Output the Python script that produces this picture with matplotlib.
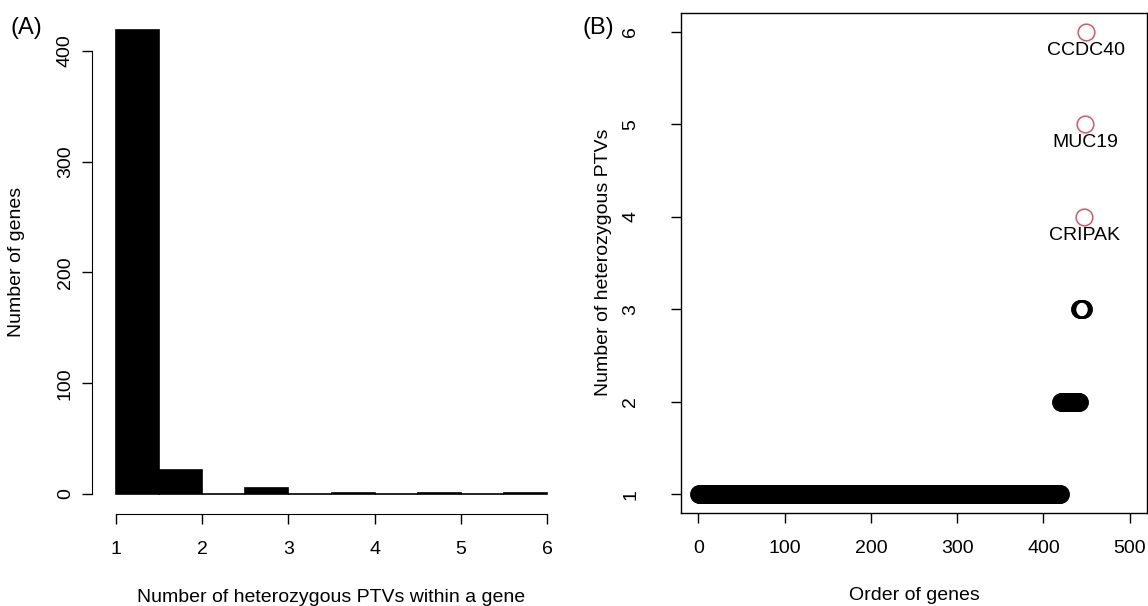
import numpy as np
import matplotlib.pyplot as plt

plt.rcParams["font.family"] = ["Liberation Sans", "DejaVu Sans"]

# Data
# histogram of heterozygous PTVs per gene (bins of width 0.5 from 1 to 6)
bin_edges = [1.0, 1.5, 2.0, 2.5, 3.0, 3.5, 4.0, 4.5, 5.0, 5.5, 6.0]
hist_counts = [419, 22, 0, 5, 0, 1, 0, 1, 0, 1]

# genes grouped by their number of PTVs (sorted order used in panel B)
ptv_levels = [1, 2, 3, 4, 5, 6]
genes_per_level = [419, 22, 5, 1, 1, 1]
labelled_genes = {4: "CRIPAK", 5: "MUC19", 6: "CCDC40"}

W, H = 1148, 606
fig = plt.figure(figsize=(W / 100, H / 100), dpi=100)


def px_axes(l, t, r, b):
    return fig.add_axes([l / W, 1 - b / H, (r - l) / W, (b - t) / H])


fs = 14
red = "#DF536B"

# ---- Panel A: histogram
ax1 = px_axes(92, 11, 564, 514)
lefts = np.array(bin_edges[:-1])
widths = np.diff(bin_edges)
ax1.bar(lefts, hist_counts, width=widths, align="edge",
        color="black", edgecolor="black", linewidth=1.2)
ax1.set_xlim(0.7216, 6.197)
ax1.set_ylim(-18.06, 436.1)
for s in ["top", "right"]:
    ax1.spines[s].set_visible(False)
ax1.spines["left"].set_bounds(0, 400)
ax1.spines["bottom"].set_bounds(1, 6)
ax1.set_xticks([1, 2, 3, 4, 5, 6])
ax1.set_yticks([0, 100, 200, 300, 400])
ax1.set_yticklabels(["0", "100", "200", "300", "400"], rotation=90, va="center")
ax1.tick_params(length=7.5, width=1, labelsize=fs)
ax1.tick_params(axis="x", pad=12)
ax1.tick_params(axis="y", pad=5.5)
ax1.set_xlabel("Number of heterozygous PTVs within a gene", fontsize=fs, va="center")
ax1.set_ylabel("Number of genes", fontsize=fs, va="center")
ax1.xaxis.set_label_coords(331.5 / W, 1 - 597 / H, transform=fig.transFigure)
ax1.yaxis.set_label_coords(17 / W, 1 - 262 / H, transform=fig.transFigure)
fig.text(10 / W, 1 - 28 / H, "(A)", fontsize=17, va="center", ha="left")

# ---- Panel B: ordered genes
ax2 = px_axes(681, 13, 1147, 513)
gene_values = np.repeat(ptv_levels, genes_per_level)
order = np.arange(1, len(gene_values) + 1)
plain = gene_values <= 3
ax2.plot(order[plain], gene_values[plain], "o", mfc="none", mec="black",
         mew=1.6, ms=12)
ax2.plot(order[~plain], gene_values[~plain], "o", mfc="none", mec=red,
         mew=1.1, ms=12)
for xv, yv in zip(order[~plain], gene_values[~plain]):
    ax2.annotate(labelled_genes[yv], (xv, yv), xytext=(0, -13.5),
                 textcoords="offset points", ha="center", va="center",
                 fontsize=fs)
ax2.set_xlim(-20, 520)
ax2.set_ylim(0.8, 6.2)
ax2.set_xticks([0, 100, 200, 300, 400, 500])
ax2.set_yticks([1, 2, 3, 4, 5, 6])
ax2.set_yticklabels(["1", "2", "3", "4", "5", "6"], rotation=90, va="center")
ax2.tick_params(length=7.5, width=1, labelsize=fs)
ax2.tick_params(axis="x", pad=12)
ax2.tick_params(axis="y", pad=22.5)
for s in ax2.spines.values():
    s.set_linewidth(1)
ax2.set_xlabel("Order of genes", fontsize=fs, va="center")
ax2.set_ylabel("Number of heterozygous PTVs", fontsize=fs, va="center")
ax2.xaxis.set_label_coords(914 / W, 1 - 595 / H, transform=fig.transFigure)
ax2.yaxis.set_label_coords(603 / W, 1 - 262 / H, transform=fig.transFigure)
fig.text(583 / W, 1 - 28 / H, "(B)", fontsize=17, va="center", ha="left")

fig.savefig("out.png", dpi=100)
